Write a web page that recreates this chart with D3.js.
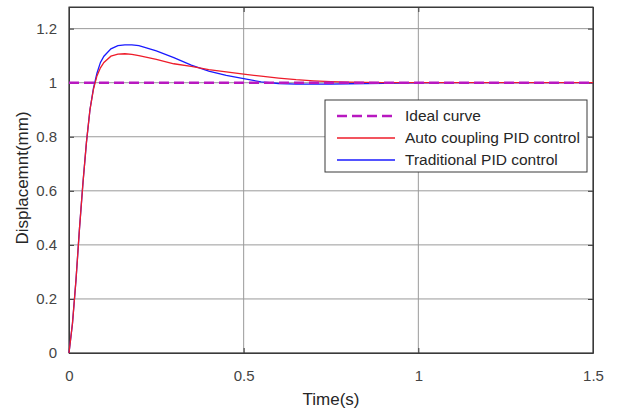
<!DOCTYPE html>
<html>
<head>
<meta charset="utf-8">
<script src="https://cdn.jsdelivr.net/npm/d3@7"></script>
<style>
  body { margin: 0; background: #fff; }
  text { font-family: Arial, "Liberation Sans", Helvetica, sans-serif; }
</style>
</head>
<body>
<div id="chart"></div>
<script>
// time samples (s)
var time = [0, 0.01, 0.02, 0.03, 0.04, 0.05, 0.06, 0.07, 0.08, 0.09, 0.1, 0.12, 0.14, 0.16, 0.18, 0.2,
    0.25, 0.3, 0.35, 0.4, 0.45, 0.5, 0.55, 0.6, 0.65, 0.7, 0.75, 0.8, 0.85, 0.9, 1.0, 1.1, 1.2, 1.3, 1.4, 1.5];

// Auto coupling PID control response
var autoPid = [0, 0.11, 0.27, 0.46, 0.63, 0.78, 0.9, 0.975, 1.025, 1.055, 1.075, 1.098, 1.106, 1.107, 1.105, 1.1,
    1.086, 1.07, 1.06, 1.048, 1.04, 1.032, 1.024, 1.017, 1.011, 1.007, 1.004, 1.002, 1.001, 1.0, 1.0, 1.0, 1.0, 1.0, 1.0, 1.0];

// Traditional PID control response
var tradPid = [0, 0.11, 0.27, 0.46, 0.63, 0.78, 0.9, 0.98, 1.035, 1.075, 1.098, 1.125, 1.137, 1.14, 1.14, 1.137,
    1.118, 1.093, 1.065, 1.043, 1.027, 1.015, 1.003, 0.997, 0.995, 0.995, 0.995, 0.996, 0.997, 0.998, 0.999, 1.0, 1.0, 1.0, 1.0, 1.0];

// Ideal curve
var idealTime = [0, 1.5];
var idealValue = [1, 1];

var xTicks = [0, 0.5, 1, 1.5];
var yTicks = [0, 0.2, 0.4, 0.6, 0.8, 1, 1.2];
var legendNames = ["Ideal curve", "Auto coupling PID control", "Traditional PID control"];

var margin = { top: 7, right: 25, bottom: 59, left: 69 },
    width = 618 - margin.left - margin.right,
    height = 412 - margin.top - margin.bottom;

var svg = d3.select("#chart")
    .append("svg")
    .attr("width", 618)
    .attr("height", 412)
    .append("g")
    .attr("transform", "translate(" + margin.left + "," + margin.top + ")");

var x = d3.scaleLinear().domain([0, 1.5]).range([0, width]);
var y = d3.scaleLinear().domain([0, 1.28]).range([height, 0]);

// grid
svg.append("g")
    .selectAll("line.gx")
    .data(xTicks)
    .enter().append("line")
    .attr("x1", function(d) { return x(d); })
    .attr("x2", function(d) { return x(d); })
    .attr("y1", 0)
    .attr("y2", height)
    .attr("stroke", "#9a9a9a")
    .attr("stroke-width", 1);
svg.append("g")
    .selectAll("line.gy")
    .data(yTicks)
    .enter().append("line")
    .attr("x1", 0)
    .attr("x2", width)
    .attr("y1", function(d) { return y(d); })
    .attr("y2", function(d) { return y(d); })
    .attr("stroke", "#9a9a9a")
    .attr("stroke-width", 1);

// axes (ticks inward, on all four sides)
var fmt = function(d) { return d3.format("")(d); };
svg.append("g")
    .attr("transform", "translate(0," + height + ")")
    .call(d3.axisBottom(x).tickValues(xTicks).tickFormat(fmt).tickSizeInner(-5).tickSizeOuter(0).tickPadding(17));
svg.append("g")
    .call(d3.axisLeft(y).tickValues(yTicks).tickFormat(fmt).tickSizeInner(-5).tickSizeOuter(0).tickPadding(12));
svg.append("g")
    .call(d3.axisTop(x).tickValues(xTicks).tickFormat("").tickSizeInner(-5).tickSizeOuter(0));
svg.append("g")
    .attr("transform", "translate(" + width + ",0)")
    .call(d3.axisRight(y).tickValues(yTicks).tickFormat("").tickSizeInner(-5).tickSizeOuter(0));

svg.selectAll(".domain").attr("stroke", "#3a3a3a");
svg.selectAll(".tick line").attr("stroke", "#3a3a3a");
svg.selectAll(".tick text").attr("fill", "#444").style("font-size", "15px");

// frame
svg.append("rect")
    .attr("x", 0).attr("y", 0)
    .attr("width", width).attr("height", height)
    .attr("fill", "none")
    .attr("stroke", "#3a3a3a");

// lines
var line = d3.line()
    .x(function(d) { return x(d[0]); })
    .y(function(d) { return y(d[1]); });

svg.append("path")
    .datum(time.map(function(t, i) { return [t, tradPid[i]]; }))
    .attr("fill", "none")
    .attr("stroke", "#1a1aff")
    .attr("stroke-width", 1.3)
    .attr("d", line);

svg.append("path")
    .datum(time.map(function(t, i) { return [t, autoPid[i]]; }))
    .attr("fill", "none")
    .attr("stroke", "#ee1c2a")
    .attr("stroke-width", 1.3)
    .attr("d", line);

svg.append("path")
    .datum(idealTime.map(function(t, i) { return [t, idealValue[i]]; }))
    .attr("fill", "none")
    .attr("stroke", "#b818c0")
    .attr("stroke-width", 2.5)
    .attr("stroke-dasharray", "10,5")
    .attr("d", line);

// axis labels
svg.append("text")
    .attr("x", width / 2)
    .attr("y", height + 46)
    .attr("text-anchor", "middle")
    .attr("dy", "0.35em")
    .attr("fill", "#262626")
    .style("font-size", "17px")
    .text("Time(s)");

svg.append("text")
    .attr("transform", "translate(" + (22 - margin.left) + "," + (178 - margin.top) + ") rotate(-90)")
    .attr("text-anchor", "middle")
    .attr("dy", "0.35em")
    .attr("fill", "#262626")
    .style("font-size", "17px")
    .text("Displacemnt(mm)");

// legend
var legend = svg.append("g")
    .attr("transform", "translate(" + (325 - margin.left) + "," + (100 - margin.top) + ")");
legend.append("rect")
    .attr("width", 262)
    .attr("height", 72)
    .attr("fill", "#fff")
    .attr("stroke", "#3a3a3a");

var legendStyles = [
    { color: "#b818c0", width: 2.5, dash: "10,5" },
    { color: "#ee1c2a", width: 1.3, dash: null },
    { color: "#1a1aff", width: 1.3, dash: null }
];

legendNames.forEach(function(name, i) {
    var ly = 16 + i * 22;
    legend.append("line")
        .attr("x1", 12).attr("x2", 70)
        .attr("y1", ly).attr("y2", ly)
        .attr("stroke", legendStyles[i].color)
        .attr("stroke-width", legendStyles[i].width)
        .attr("stroke-dasharray", legendStyles[i].dash);
    legend.append("text")
        .attr("x", 80)
        .attr("y", ly)
        .attr("dy", "0.35em")
        .attr("fill", "#262626")
        .style("font-size", "15.5px")
        .text(name);
});
</script>
</body>
</html>
